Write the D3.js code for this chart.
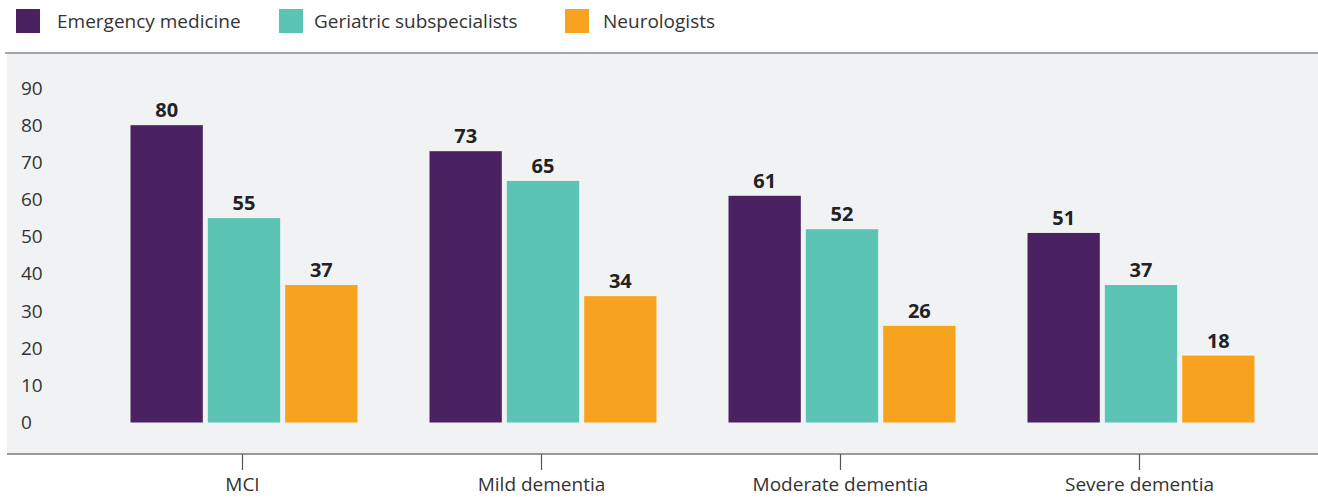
<!DOCTYPE html>
<html><head><meta charset="utf-8">
<script src="https://cdn.jsdelivr.net/npm/d3@7"></script>
<style>
body{margin:0;background:#fff;}
svg{display:block;font-family:"Open Sans",sans-serif;}
</style></head>
<body><svg id="c" width="1318" height="497"></svg>
<script>
const categories = ["MCI","Mild dementia","Moderate dementia","Severe dementia"];
const seriesNames = ["Emergency medicine","Geriatric subspecialists","Neurologists"];
const emergencyMedicine = [80,73,61,51];
const geriatricSubspecialists = [55,65,52,37];
const neurologists = [37,34,26,18];
const yTicks = [0,10,20,30,40,50,60,70,80,90];
const colors = ["#4a2262","#5bc4b5","#f8a31f"];
const seriesValues = [emergencyMedicine, geriatricSubspecialists, neurologists];

const W = 1318, H = 497;
const FS = 19;
const svg = d3.select("#c");

// plot background
svg.append("rect").attr("x",7).attr("y",53).attr("width",W-7).attr("height",401).attr("fill","#f1f2f4");
svg.append("line").attr("x1",5).attr("x2",W).attr("y1",53).attr("y2",53).attr("stroke","#8a8a8a").attr("stroke-width",1.5);

const x0 = d3.scaleBand().domain(categories).range([93,1289]).paddingInner(0).paddingOuter(0);
const x1 = d3.scaleBand().domain(seriesNames).range([-112,115]).paddingInner(0.065);
const y = d3.scaleLinear().domain([0,90]).range([422.5,88]);

// y axis
const ya = svg.append("g").attr("transform","translate(21,0)")
  .call(d3.axisLeft(y).tickValues(yTicks).tickSize(0).tickPadding(0));
ya.select(".domain").remove();
ya.selectAll("text").attr("text-anchor","start").attr("x",0)
  .attr("font-family","'Open Sans',sans-serif").attr("font-size",FS).attr("fill","#333");

// bars
const groups = svg.append("g").selectAll("g").data(categories).join("g")
  .attr("transform",d=>`translate(${x0(d)+x0.bandwidth()/2},0)`);
groups.each(function(cat,ci){
  const g = d3.select(this);
  const rows = seriesNames.map((s,si)=>({s,si,v:seriesValues[si][ci]}));
  g.selectAll("rect").data(rows).join("rect")
    .attr("x",d=>x1(d.s)).attr("width",x1.bandwidth())
    .attr("y",d=>y(d.v)).attr("height",d=>y(0)-y(d.v))
    .attr("fill",d=>colors[d.si]);
  g.selectAll("text").data(rows).join("text")
    .attr("x",d=>x1(d.s)+x1.bandwidth()/2).attr("y",d=>y(d.v)-8)
    .attr("text-anchor","middle").attr("font-weight","bold").attr("font-size",FS+1)
    .attr("fill","#222").text(d=>d.v);
});

// x axis
svg.append("line").attr("x1",7).attr("x2",W).attr("y1",454).attr("y2",454).attr("stroke","#7a7a7a").attr("stroke-width",1.5);
const xa = svg.append("g").attr("transform","translate(0,454)")
  .call(d3.axisBottom(x0).tickSize(16).tickPadding(8));
xa.select(".domain").remove();
xa.selectAll(".tick line").attr("stroke","#555").attr("stroke-width",1.2);
xa.selectAll("text").attr("font-family","'Open Sans',sans-serif").attr("font-size",FS).attr("fill","#333");

// legend
const legSwatchX = [16,279,565];
const legTextX = [57,314,603];
const leg = svg.append("g").selectAll("g").data(seriesNames).join("g");
leg.append("rect").attr("x",(d,i)=>legSwatchX[i]).attr("y",9).attr("width",24).attr("height",24).attr("fill",(d,i)=>colors[i]);
leg.append("text").attr("x",(d,i)=>legTextX[i]).attr("y",28).attr("font-size",FS).attr("fill","#333").text(d=>d);
</script></body></html>
